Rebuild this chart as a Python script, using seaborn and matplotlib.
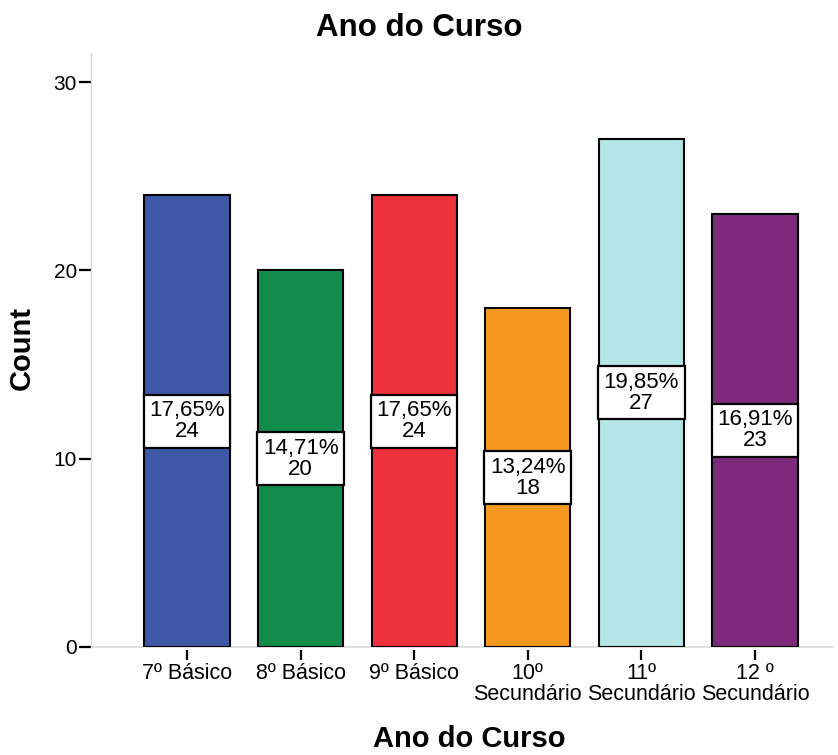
import matplotlib
matplotlib.use("Agg")
import matplotlib.pyplot as plt
import seaborn as sns
import pandas as pd

categories = ["7º Básico", "8º Básico", "9º Básico",
              "10º\nSecundário", "11º\nSecundário", "12 º\nSecundário"]
counts = [24, 20, 24, 18, 27, 23]
percents = ["17,65%", "14,71%", "17,65%", "13,24%", "19,85%", "16,91%"]
colors = ["#3E58A8", "#128C4A", "#EE323D", "#F7991F", "#B5E6E7", "#7E2A7C"]

df = pd.DataFrame({"Ano": categories, "Count": counts})

sns.set_style("white")
plt.rcParams["font.family"] = ["Liberation Sans", "DejaVu Sans"]
plt.rcParams["text.color"] = "black"
plt.rcParams["axes.labelcolor"] = "black"
plt.rcParams["xtick.color"] = "black"
plt.rcParams["ytick.color"] = "black"

fig = plt.figure(figsize=(8.38, 7.55), dpi=100)
ax = fig.add_axes([91 / 838, 108 / 755, 742 / 838, 594 / 755])

sns.barplot(data=df, x="Ano", y="Count", hue="Ano", palette=colors,
            legend=False, width=0.75, edgecolor="black", linewidth=1.5,
            saturation=1, ax=ax)

# value boxes in the middle of each bar
for i, (c, p) in enumerate(zip(counts, percents)):
    ax.text(i, c / 2, p + "\n" + str(c), ha="center", va="center",
            fontsize=16, linespacing=1.0, zorder=5, color="black",
            bbox=dict(boxstyle="square,pad=0.25", fc="white", ec="black", lw=1.6))

ax.set_ylim(0, 31.55)
ax.set_xlim(-0.845, 5.687)
ax.set_yticks([0, 10, 20, 30])

for s in ["top", "right"]:
    ax.spines[s].set_visible(False)
ax.spines["left"].set_color("#d9d9d9")
ax.spines["left"].set_linewidth(1)
ax.spines["bottom"].set_position(("outward", 2))
ax.spines["bottom"].set_visible(False)
ax.axhline(0, color="#d9d9d9", lw=1.2, zorder=0, clip_on=False)

ax.tick_params(axis="y", length=9, width=1.6, color="black", labelsize=15, pad=1, left=True)
ax.tick_params(axis="x", length=7.5, width=1.6, color="black", labelsize=15.5, pad=2, bottom=True)
for lab in ax.get_xticklabels():
    lab.set_linespacing(1.0)

ax.set_xlabel("Ano do Curso", fontsize=21, fontweight="bold", va="baseline")
ax.xaxis.set_label_coords(0.51, -0.168)
ax.set_ylabel("Count", fontsize=21, fontweight="bold", va="center")
ax.yaxis.set_label_coords(-0.093, 0.503)

fig.suptitle("Ano do Curso", x=0.5, y=1 - 28 / 755, va="center",
             fontsize=22.5, fontweight="bold", color="black")

fig.savefig("out.png", dpi=100)
